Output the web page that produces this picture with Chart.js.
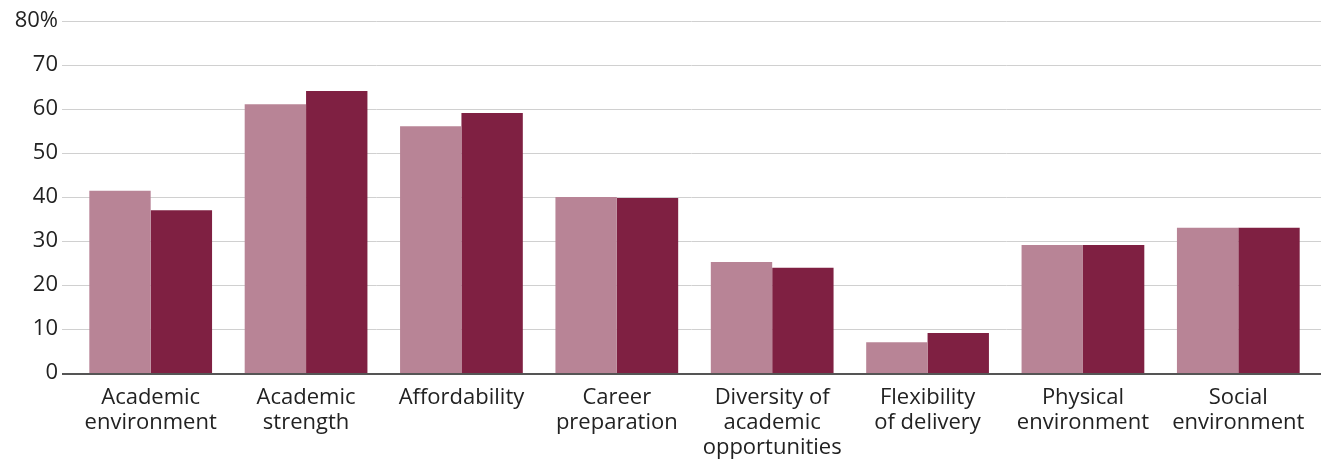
<!DOCTYPE html>
<html><head><meta charset="utf-8">
<script src="https://cdn.jsdelivr.net/npm/chart.js@4"></script>
<style>html,body{margin:0;padding:0;background:#fff}#w{width:1321px;height:460px}</style>
</head><body><div id="w"><canvas id="c" width="1321" height="460"></canvas></div>
<script>
const categories = [["Academic","environment"],["Academic","strength"],["Affordability"],["Career","preparation"],["Diversity of","academic","opportunities"],["Flexibility","of delivery"],["Physical","environment"],["Social","environment"]];
const seriesA = [41.4, 61.1, 56.1, 40.0, 25.2, 7.0, 29.1, 33.0];
const seriesB = [37.0, 64.1, 59.1, 39.8, 23.9, 9.1, 29.1, 33.0];
const yTicks = [0,10,20,30,40,50,60,70,80];
const gridPlugin = {
  id: 'wideGrid',
  beforeDatasetsDraw(chart) {
    const ctx = chart.ctx, y = chart.scales.y;
    const x0 = 62, x1 = chart.width;
    ctx.save();
    yTicks.forEach(v => {
      const py = Math.round(y.getPixelForValue(v)) + 0.5;
      if (v === 0) return;
      ctx.strokeStyle = '#d0d0d0'; ctx.lineWidth = 1;
      ctx.beginPath(); ctx.moveTo(x0, py); ctx.lineTo(x1, py); ctx.stroke();
    });
    ctx.restore();
  },
  afterDatasetsDraw(chart) {
    const ctx = chart.ctx, y = chart.scales.y;
    const py = y.getPixelForValue(0);
    ctx.save();
    ctx.strokeStyle = '#555'; ctx.lineWidth = 2;
    ctx.beginPath(); ctx.moveTo(62, py + 1); ctx.lineTo(chart.width, py + 1); ctx.stroke();
    ctx.restore();
  }
};
new Chart(document.getElementById('c'), {
  type: 'bar',
  data: { labels: categories, datasets: [
    { label: 'A', data: seriesA, backgroundColor: '#B88496', barPercentage: 1.0, categoryPercentage: 0.79 },
    { label: 'B', data: seriesB, backgroundColor: '#7F2042', barPercentage: 1.0, categoryPercentage: 0.79 }
  ]},
  plugins: [gridPlugin],
  options: {
    responsive: false, animation: false,
    layout: { padding: { top: 21, right: 5, left: 0, bottom: 0 } },
    plugins: { legend: { display: false }, tooltip: { enabled: false } },
    scales: {
      x: {
        grid: { display: false, drawTicks: false },
        border: { display: false },
        ticks: { color: '#222', font: { family: 'Open Sans', size: 22, lineHeight: 1.14 }, maxRotation: 0, autoSkip: false, padding: 12 },
        afterFit: s => { s.height = 87; s.paddingLeft = 0; s.paddingRight = 0; }
      },
      y: {
        min: 0, max: 80,
        afterBuildTicks: s => { s.ticks = yTicks.map(v => ({ value: v })); },
        grid: { display: false, drawTicks: false },
        border: { display: false },
        ticks: { color: '#222', font: { family: 'Open Sans', size: 22 }, padding: 15,
          callback: v => v === 80 ? '80%' : String(v) },
        afterFit: s => { s.width = 73; s.paddingTop = 0; s.paddingBottom = 0; }
      }
    }
  }
});
</script></body></html>
